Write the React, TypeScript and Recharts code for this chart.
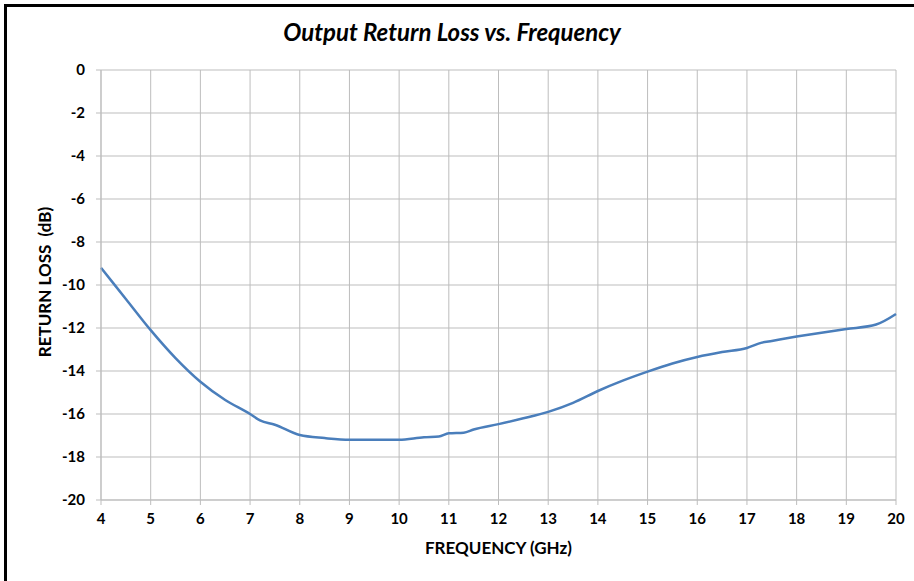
import { LineChart, Line, XAxis, YAxis, CartesianGrid } from 'recharts'

const freqGHz = [
  4, 4.5, 5, 5.5, 6, 6.5, 7, 7.2, 7.5, 8, 8.5, 9, 9.5, 10, 10.5, 10.8, 11, 11.3, 11.5, 12,
  12.5, 13, 13.5, 14, 14.5, 15, 15.5, 16, 16.5, 17, 17.3, 17.5, 18, 18.5, 19, 19.6, 20,
]
const returnLossDb = [
  -9.2, -10.65, -12.1, -13.4, -14.5, -15.35, -16.0, -16.3, -16.5, -16.98, -17.12, -17.2, -17.2,
  -17.2, -17.08, -17.05, -16.9, -16.87, -16.72, -16.47, -16.2, -15.9, -15.48, -14.93, -14.45,
  -14.03, -13.65, -13.35, -13.12, -12.93, -12.68, -12.6, -12.4, -12.22, -12.05, -11.84, -11.35,
]
const xTicks = [4, 5, 6, 7, 8, 9, 10, 11, 12, 13, 14, 15, 16, 17, 18, 19, 20]
const yTicks = [0, -2, -4, -6, -8, -10, -12, -14, -16, -18, -20]

const data = freqGHz.map((f, i) => ({ f, rl: returnLossDb[i] }))

const FONT = 'Lato, "Open Sans", sans-serif'
const tickStyle = { fontFamily: FONT, fontSize: 15, fontWeight: 700, fill: '#000' }
const titleStyle = { fontFamily: FONT, fontSize: 17, fontWeight: 700, fill: '#000' }

function YTitle({ viewBox }: { viewBox?: { x: number; y: number; width: number; height: number } }) {
  if (!viewBox) return null
  const cx = viewBox.x + 3
  const cy = viewBox.y + viewBox.height / 2 - 3
  return (
    <text
      x={cx}
      y={cy}
      transform={`rotate(-90 ${cx} ${cy})`}
      textAnchor="middle"
      dominantBaseline="central"
      style={titleStyle}
    >
      {'RETURN LOSS\u00a0\u00a0(dB)'}
    </text>
  )
}

export default function App() {
  return (
    <div
      style={{
        position: 'absolute',
        left: 0,
        top: 0,
        width: 914,
        height: 581,
        background: '#fff',
        overflow: 'hidden',
      }}
    >
      {/* outer frame */}
      <div
        style={{
          position: 'absolute',
          left: 4,
          top: 4,
          width: 920,
          height: 600,
          border: '3px solid #000',
          boxSizing: 'border-box',
        }}
      />
      <div
        style={{
          position: 'absolute',
          left: 0,
          top: 17,
          width: 904,
          textAlign: 'center',
          fontFamily: FONT,
          fontSize: 24,
          fontWeight: 700,
          fontStyle: 'italic',
          color: '#000',
        }}
      >
        Output Return Loss vs. Frequency
      </div>
      <div style={{ position: 'absolute', left: 0, top: 0 }}>
        <LineChart
          width={914}
          height={581}
          data={data}
          margin={{ top: 70, right: 18, bottom: 0, left: 41 }}
        >
          <CartesianGrid stroke="#bdbdbd" strokeWidth={1} />
          <XAxis
            type="number"
            dataKey="f"
            domain={[4, 20]}
            ticks={xTicks}
            interval={0}
            height={81}
            tick={tickStyle}
            tickSize={5}
            tickMargin={8}
            tickLine={{ stroke: '#bdbdbd' }}
            axisLine={{ stroke: '#bdbdbd' }}
            label={{
              value: 'FREQUENCY (GHz)',
              position: 'insideTop',
              offset: 42,
              style: titleStyle,
            }}
          />
          <YAxis
            type="number"
            domain={[-20, 0]}
            ticks={yTicks}
            interval={0}
            width={60}
            tick={tickStyle}
            tickSize={5}
            tickMargin={11}
            tickLine={{ stroke: '#bdbdbd' }}
            axisLine={{ stroke: '#bdbdbd' }}
            label={<YTitle />}
          />
          <Line
            type="monotone"
            dataKey="rl"
            stroke="#4a7ebb"
            strokeWidth={2.5}
            dot={false}
            isAnimationActive={false}
          />
        </LineChart>
      </div>
    </div>
  )
}
